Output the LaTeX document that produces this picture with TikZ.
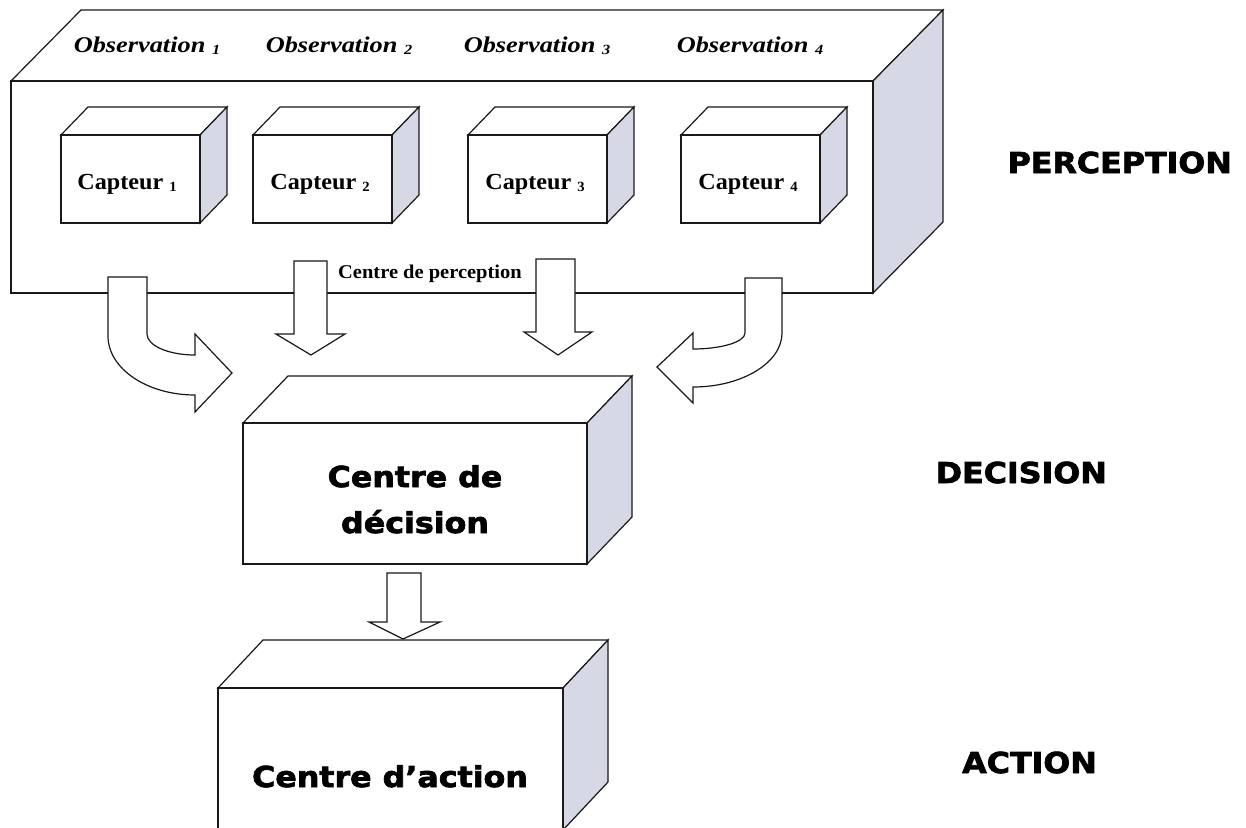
\documentclass[tikz,border=0pt]{standalone}
\usepackage{fontspec}
\setmainfont{Liberation Serif}
\newfontfamily\obsfont{Liberation Serif}[FakeStretch=1.17]
\newfontfamily\capfont{Liberation Serif}[FakeStretch=1.05]
\newfontfamily\heavyfont{DejaVu Sans}[FakeStretch=1.1,FakeBold=2.5]
\definecolor{sidecol}{RGB}{214,216,230}
\newcommand\drawbox[6]{%
  \draw[face] (#1,#2) -- ++(#5,-#6) -- ++(#3,0) -- ++(-#5,#6) -- cycle;
  \draw[sideface] (#1+#3,#2) -- ++(#5,-#6) -- ++(0,#4) -- ++(-#5,#6) -- cycle;
  \draw[face] (#1,#2) rectangle ++(#3,#4);
}
\newcommand\obsub[1]{{\fontsize{14}{14}\selectfont\raisebox{-2pt}{#1}}}
\newcommand\capsub[1]{{\fontsize{14}{14}\selectfont\raisebox{-2pt}{#1}}}
\begin{document}
\begin{tikzpicture}[x=1pt,y=-1pt,
  edge/.style={draw=black!90, line width=1.2pt},
  face/.style={edge, fill=white},
  sideface/.style={edge, fill=sidecol},
  blockarrow/.style={edge, fill=white},
  obslabel/.style={font={\obsfont\bfseries\itshape\fontsize{22.5}{24}\selectfont}, anchor=base, inner sep=0pt},
  captlabel/.style={font={\capfont\bfseries\fontsize{23}{24}\selectfont}, anchor=base, inner sep=0pt},
  perclabel/.style={font={\capfont\bfseries\fontsize{19.5}{21}\selectfont}, anchor=base west, inner sep=0pt},
  heavylabel/.style={font={\heavyfont\bfseries\fontsize{28.8}{30}\selectfont}, inner sep=0pt},
]
\clip (0,0) rectangle (1246,827);
\fill[white] (0,0) rectangle (1246,827);

% perception block
\drawbox{11}{81}{862}{212}{70}{71}
\foreach \x in {61,253,468,681} {\drawbox{\x}{135}{139}{88}{27}{28}}

\node[obslabel] (o1) at (147,52) {Observation \obsub{1}};
\node[obslabel] (o2) at (339,52) {Observation \obsub{2}};
\node[obslabel] (o3) at (537,52) {Observation \obsub{3}};
\node[obslabel] (o4) at (750,52) {Observation \obsub{4}};

\node[captlabel] (c1) at (127,189) {Capteur \capsub{1}};
\node[captlabel] (c2) at (320,189) {Capteur \capsub{2}};
\node[captlabel] (c3) at (535,189) {Capteur \capsub{3}};
\node[captlabel] (c4) at (748,189) {Capteur \capsub{4}};

\node[perclabel] (cp) at (338,278) {Centre de perception};

% block arrows from perception to decision
\draw[blockarrow] (108,277) -- (147,277) -- (147,334)
  .. controls (147,345.6) and (168.5,355) .. (195,355)
  -- (195,334) -- (232,373) -- (195,412) -- (195,395)
  .. controls (147,395) and (108,368.6) .. (108,336) -- cycle;
\draw[blockarrow] (294,261) -- (327,261) -- (327,334) -- (345,334) -- (311,355) -- (276,334) -- (294,334) -- cycle;
\draw[blockarrow] (536,259) -- (575,259) -- (575,332) -- (592,332) -- (558,355) -- (524,332) -- (536,332) -- cycle;
\draw[blockarrow] (782,278) -- (745,278) -- (745,333)
  .. controls (745,341.8) and (721.7,349) .. (693,349)
  -- (693,333) -- (657,367) -- (693,403) -- (693,387)
  .. controls (742,387) and (782,362.8) .. (782,333) -- cycle;

% decision block
\drawbox{243}{423}{344}{141}{45}{47}
\node[heavylabel, anchor=base] (d1) at (415,487) {Centre de};
\node[heavylabel, anchor=base] (d2) at (415,533) {décision};

% arrow decision -> action
\draw[blockarrow] (387,573) -- (421,573) -- (421,622) -- (440,622) -- (403,639) -- (369,622) -- (387,622) -- cycle;

% action block
\drawbox{218}{688}{345}{142}{45}{48}
\node[heavylabel, anchor=base] (a1) at (390,787) {Centre d’action};

% level labels
\node[heavylabel, anchor=base east] (lp) at (1232,173) {PERCEPTION};
\node[heavylabel, anchor=base east] (ld) at (1107,483) {DECISION};
\node[heavylabel, anchor=base east] (la) at (1097,773) {ACTION};
\end{tikzpicture}
\end{document}
